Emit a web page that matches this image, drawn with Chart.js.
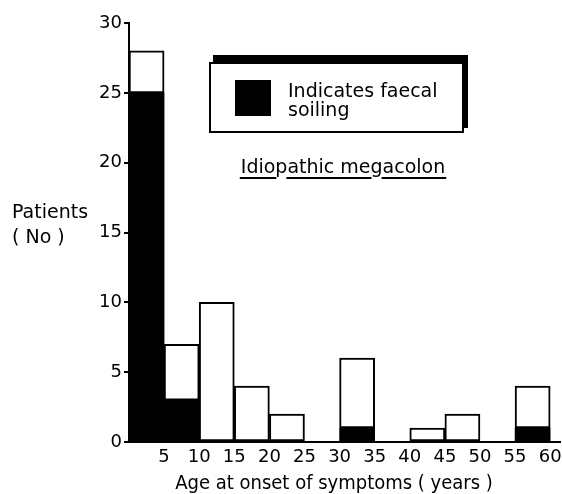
<!DOCTYPE html>
<html>
<head>
<meta charset="utf-8">
<script src="https://cdn.jsdelivr.net/npm/chart.js@4.4.0/dist/chart.umd.min.js"></script>
<style>
  body { margin: 0; background: #fff; }
  canvas { display: block; }
</style>
</head>
<body>
<canvas id="chart-age" width="562" height="494"></canvas>
<script>
// age bins (years), each 5 wide
const bin_starts = [0, 5, 10, 15, 20, 25, 30, 35, 40, 45, 50, 55];
const soiling = [25, 3, 0, 0, 0, 0, 1, 0, 0, 0, 0, 1];
const no_soiling = [3, 4, 10, 4, 2, 0, 5, 0, 1, 2, 0, 3];

const x_ticks = [5, 10, 15, 20, 25, 30, 35, 40, 45, 50, 55, 60];
const y_ticks = [0, 5, 10, 15, 20, 25, 30];

const legend_lines = ['Indicates faecal', 'soiling'];
const chart_title = 'Idiopathic megacolon';
const y_title = ['Patients', '( No )'];
const x_title = 'Age at onset of symptoms ( years )';

const FONT = "'DejaVu Sans', sans-serif";
Chart.defaults.font.family = FONT;
Chart.defaults.color = '#000';

let chart_age = document.getElementById('chart-age');

const toPoints = (values) => bin_starts.map((start, i) => ({ x: start + 2.5, y: values[i] }));

const extras = {
    id: 'extras',
    afterDraw(chart) {
        const ctx = chart.ctx;
        ctx.save();
        ctx.fillStyle = '#000';

        // x title
        ctx.font = "20px 'DejaVu Sans Condensed', " + FONT;
        ctx.textAlign = 'center';
        ctx.textBaseline = 'alphabetic';
        ctx.fillText(x_title, 334, 489);

        // y title, horizontal at the left
        ctx.font = '19px ' + FONT;
        ctx.textAlign = 'left';
        ctx.textBaseline = 'middle';
        ctx.fillText(y_title[0], 12, 213);
        ctx.fillText(y_title[1], 12, 238);

        // legend box with shadow
        ctx.fillRect(213, 55, 255, 73);
        ctx.fillStyle = '#fff';
        ctx.fillRect(210, 63, 253, 69);
        ctx.strokeStyle = '#000';
        ctx.lineWidth = 2;
        ctx.strokeRect(210, 63, 253, 69);
        ctx.fillStyle = '#000';
        ctx.fillRect(235, 80, 36, 36);
        ctx.textBaseline = 'alphabetic';
        ctx.fillText(legend_lines[0], 288, 97);
        ctx.fillText(legend_lines[1], 288, 116);

        // underlined title, gaps under descenders
        const w = ctx.measureText(chart_title).width;
        let x = 343 - w / 2;
        ctx.fillText(chart_title, x, 173);
        for (const ch of chart_title) {
            const cw = ctx.measureText(ch).width;
            if (!'pgy'.includes(ch)) {
                ctx.fillRect(x - 1, 177, cw + 2, 2);
            }
            x += cw;
        }
        ctx.restore();
    }
};

new Chart(chart_age, {
    type: 'bar',
    data: {
        datasets: [
            {
                label: legend_lines.join(' '),
                data: toPoints(soiling),
                backgroundColor: '#000',
                borderColor: '#000',
                borderWidth: 0,
                barPercentage: 1,
                categoryPercentage: 1,
            },
            {
                label: 'No soiling',
                data: toPoints(no_soiling),
                backgroundColor: '#fff',
                borderColor: '#000',
                borderWidth: 2,
                borderSkipped: false,
                barPercentage: 1,
                categoryPercentage: 1,
            },
        ]
    },
    options: {
        responsive: false,
        animation: false,
        layout: { padding: { top: 23, right: 2, left: 0, bottom: 0 } },
        plugins: {
            legend: { display: false },
            tooltip: { enabled: false },
        },
        scales: {
            x: {
                type: 'linear',
                stacked: true,
                offset: false,
                min: 0,
                max: 61.4,
                afterBuildTicks: s => { s.ticks = x_ticks.map(v => ({ value: v })); },
                afterFit: s => { s.height = 52; },
                grid: { display: false, drawTicks: true, tickLength: 5 },
                border: { display: true, color: '#000', width: 2 },
                ticks: { font: { size: 18 }, padding: 0, maxRotation: 0, autoSkip: false },
            },
            y: {
                stacked: true,
                min: 0,
                max: 30,
                afterBuildTicks: s => { s.ticks = y_ticks.map(v => ({ value: v })); },
                afterFit: s => { s.width = 129; },
                grid: { display: true, drawOnChartArea: false, drawTicks: true, tickLength: 5, color: '#000', lineWidth: 2 },
                border: { display: true, color: '#000', width: 2 },
                ticks: { font: { size: 18 }, padding: 2 },
            }
        }
    },
    plugins: [extras]
});
</script>
</body>
</html>
